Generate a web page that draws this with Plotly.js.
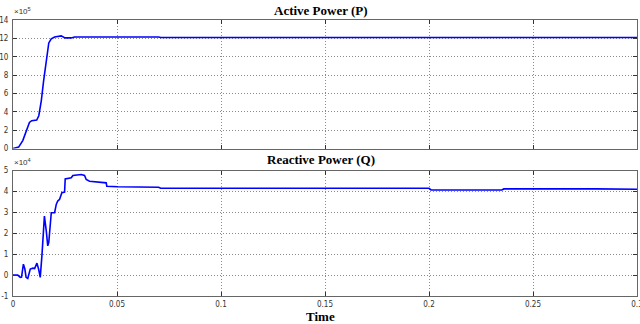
<!DOCTYPE html>
<html><head><meta charset="utf-8">
<script src="https://cdn.plot.ly/plotly-3.0.1.min.js"></script>
<style>html,body{margin:0;padding:0;background:#fff}#c{width:640px;height:324px}</style>
</head><body><div id="c"></div>
<script>
// Active power P (x10^5)
const tP = [0,0.0027,0.0047,0.0063,0.0079,0.009,0.0114,0.0124,0.0136,0.0147,0.016,0.0172,0.0184,0.020,0.0232,0.025,0.028,0.0296,0.07,0.071,0.3];
const pVals = [0,0.15,0.86,1.76,2.84,3.03,3.1,3.57,5.19,7.35,9.5,11.5,11.95,12.15,12.27,12.05,12.05,12.15,12.15,12.1,12.1];
// Reactive power Q (x10^4)
const tQ = [0,0.0023,0.0035,0.0041,0.005,0.0057,0.0063,0.0071,0.0083,0.0096,0.0104,0.0115,0.0123,0.0131,0.0139,0.0148,0.0151,0.016,0.0167,0.0172,0.0179,0.0184,0.02,0.0208,0.0215,0.0224,0.0235,0.0248,0.0251,0.028,0.0288,0.0328,0.0344,0.0352,0.0368,0.0432,0.0448,0.0451,0.0504,0.07,0.071,0.2,0.201,0.235,0.236,0.28,0.3];
const qVals = [0,0,-0.11,-0.1,0.52,0.29,-0.11,-0.16,0.29,0.33,0.31,0.57,0.29,-0.11,0.92,2.35,2.82,2.11,1.4,1.56,2.51,2.98,2.98,3.38,3.54,3.62,3.94,3.97,4.6,4.65,4.76,4.81,4.76,4.57,4.49,4.44,4.41,4.25,4.22,4.2,4.15,4.15,4.07,4.07,4.12,4.12,4.1];
const xTicks = [0,0.05,0.1,0.15,0.2,0.25,0.3];
const xTickText = ['0','0.05','0.1','0.15','0.2','0.25','0.3'];
const yTicksP = [0,2,4,6,8,10,12,14];
const yTicksQ = [-1,0,1,2,3,4,5];
const titles = ['Active Power (P)','Reactive Power (Q)'];
const xTitle = 'Time';

const tickFont = {family:'Liberation Sans Narrow, DejaVu Sans Condensed, sans-serif', size:8, color:'#333'};
const titleFont = {family:'Liberation Serif, Times New Roman, serif', size:13, color:'#000'};
const common = {showline:true, linecolor:'#666', linewidth:1, mirror:'ticks', ticks:'inside', ticklen:4, tickcolor:'#333',
  showgrid:true, gridcolor:'#8a8a8a', griddash:'1px,2px', gridwidth:1, zeroline:false, tickfont:tickFont, ticklabeloverflow:'allow'};

const data = [
  {x:tP, y:pVals, xaxis:'x', yaxis:'y', mode:'lines', line:{color:'#0000ff', width:1.6}, hoverinfo:'skip'},
  {x:tQ, y:qVals, xaxis:'x2', yaxis:'y2', mode:'lines', line:{color:'#0000ff', width:1.6}, hoverinfo:'skip'}
];
const layout = {
  width:640, height:324, margin:{l:13,r:3,t:20,b:28}, paper_bgcolor:'#fff', plot_bgcolor:'#fff', showlegend:false,
  xaxis:Object.assign({}, common, {domain:[0,1], range:[0,0.3], tickvals:xTicks, showticklabels:false, anchor:'y'}),
  yaxis:Object.assign({}, common, {domain:[0.5344,1], range:[0,14], tickvals:yTicksP, ticktext:yTicksP.map(String), anchor:'x', ticklabelstandoff:2}),
  xaxis2:Object.assign({}, common, {domain:[0,1], range:[0,0.3], tickvals:xTicks, ticktext:xTickText, anchor:'y2'}),
  yaxis2:Object.assign({}, common, {domain:[0,0.4547], range:[-1,5], tickvals:yTicksQ, ticktext:yTicksQ.map(String), anchor:'x2', ticklabelstandoff:2}),
  annotations:[
    {text:'<b>'+titles[0]+'</b>', xref:'paper', yref:'paper', x:0.494, y:1, yshift:10, showarrow:false, font:titleFont, xanchor:'center', yanchor:'middle'},
    {text:'<b>'+titles[1]+'</b>', xref:'paper', yref:'paper', x:0.494, y:0.4547, yshift:11, showarrow:false, font:titleFont, xanchor:'center', yanchor:'middle'},
    {text:'<b>'+xTitle+'</b>', xref:'paper', yref:'paper', x:0.493, y:0, yshift:-20, showarrow:false, font:titleFont, xanchor:'center', yanchor:'middle'},
    {text:'×10<sup>5</sup>', xref:'paper', yref:'paper', x:0, y:1, xshift:-1, yshift:2, showarrow:false, font:{family:'Liberation Sans Narrow, sans-serif', size:8, color:'#333'}, xanchor:'left', yanchor:'bottom'},
    {text:'×10<sup>4</sup>', xref:'paper', yref:'paper', x:0, y:0.4547, xshift:-1, yshift:2, showarrow:false, font:{family:'Liberation Sans Narrow, sans-serif', size:8, color:'#333'}, xanchor:'left', yanchor:'bottom'}
  ]
};
Plotly.newPlot('c', data, layout, {staticPlot:true, displayModeBar:false});
</script></body></html>
